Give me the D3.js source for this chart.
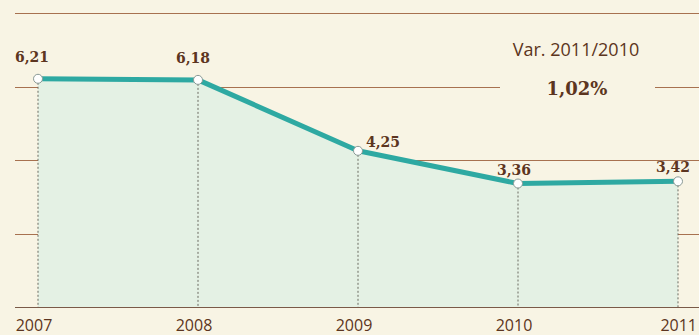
<!DOCTYPE html>
<html>
<head>
<meta charset="utf-8">
<script src="https://cdn.jsdelivr.net/npm/d3@7"></script>
<style>
  html, body { margin: 0; padding: 0; background: #f8f4e4; }
  svg { display: block; }
</style>
</head>
<body>
<svg class="chart" width="699" height="335"></svg>
<script>
var years = ["2007", "2008", "2009", "2010", "2011"];
var values = [6.21, 6.18, 4.25, 3.36, 3.42];
var valueLabels = ["6,21", "6,18", "4,25", "3,36", "3,42"];
var gridTicks = [0, 2, 4, 6, 8];
var noteTitle = "Var. 2011/2010";
var noteValue = "1,02%";

var data = years.map(function(d, i){ return {year: d, value: values[i], label: valueLabels[i]}; });

var chart = d3.select('.chart');
var x = d3.scalePoint().domain(years).range([38, 678]);
var y = d3.scaleLinear().domain([0, 8]).range([307, 13]);

// gridlines
chart.append('g').selectAll('line')
	.data(gridTicks.filter(function(t){ return t > 0; }))
	.enter().append('line')
	.attr('x1', 15).attr('x2', 699)
	.attr('y1', function(d){ return Math.round(y(d)) + 0.5; })
	.attr('y2', function(d){ return Math.round(y(d)) + 0.5; })
	.style('stroke', '#a7714f')
	.style('stroke-width', 1);

// area
var area = d3.area()
	.x(function(d){ return x(d.year); })
	.y0(y(0))
	.y1(function(d){ return y(d.value); });
chart.append('path').datum(data)
	.attr('d', area)
	.style('fill', '#e4f1e4');

// dotted drops
chart.append('g').selectAll('line')
	.data(data).enter().append('line')
	.attr('x1', function(d){ return x(d.year); })
	.attr('x2', function(d){ return x(d.year); })
	.attr('y1', function(d){ return y(d.value); })
	.attr('y2', y(0))
	.style('stroke', '#6b6b60')
	.style('stroke-width', 1)
	.style('stroke-dasharray', '2,2');

// baseline
chart.append('line')
	.attr('x1', 15).attr('x2', 699)
	.attr('y1', y(0) + 0.5).attr('y2', y(0) + 0.5)
	.style('stroke', '#7a5a48')
	.style('stroke-width', 1.2);

// line
var line = d3.line()
	.x(function(d){ return x(d.year); })
	.y(function(d){ return y(d.value); });
chart.append('path').datum(data)
	.attr('d', line)
	.style('fill', 'none')
	.style('stroke', '#2ea9a2')
	.style('stroke-width', 5)
	.style('stroke-linejoin', 'round');

// points
chart.append('g').selectAll('circle')
	.data(data).enter().append('circle')
	.attr('cx', function(d){ return x(d.year); })
	.attr('cy', function(d){ return y(d.value); })
	.attr('r', 4.5)
	.style('fill', '#ffffff')
	.style('stroke', '#8a9a96')
	.style('stroke-width', 1);

// value labels
var labelDx = [-6, -5, 25, -4, -6];
var labelDy = [-17, -17, -4, -9, -9];
chart.append('g').selectAll('text')
	.data(data).enter().append('text')
	.attr('x', function(d, i){ return x(d.year) + labelDx[i]; })
	.attr('y', function(d, i){ return y(d.value) + labelDy[i]; })
	.attr('text-anchor', function(d, i){ return i === 4 ? 'end' : 'middle'; })
	.attr('dx', function(d, i){ return i === 4 ? 18 : 0; })
	.style('font-family', '"DejaVu Serif", serif')
	.style('font-weight', 'bold')
	.style('font-size', '14px')
	.style('fill', '#5c3520')
	.text(function(d){ return d.label; });

// x labels
chart.append('g').selectAll('text')
	.data(years).enter().append('text')
	.attr('x', function(d, i){ return i === 4 ? 697 : x(d) - 4; })
	.attr('y', 331)
	.attr('text-anchor', function(d, i){ return i === 4 ? 'end' : 'middle'; })
	.style('font-family', '"Open Sans", sans-serif')
	.style('font-size', '16px')
	.style('fill', '#5c3520')
	.text(function(d){ return d; });

// note
chart.append('rect')
	.attr('x', 500).attr('y', 74).attr('width', 155).attr('height', 26)
	.style('fill', '#f8f4e4');
chart.append('text')
	.attr('x', 576).attr('y', 56)
	.attr('text-anchor', 'middle')
	.style('font-family', '"Open Sans", sans-serif')
	.style('font-size', '18px')
	.style('fill', '#5c3520')
	.text(noteTitle);
chart.append('text')
	.attr('x', 577).attr('y', 95)
	.attr('text-anchor', 'middle')
	.style('font-family', '"DejaVu Serif", serif')
	.style('font-weight', 'bold')
	.style('font-size', '18px')
	.style('fill', '#5c3520')
	.text(noteValue);
</script>
</body>
</html>
